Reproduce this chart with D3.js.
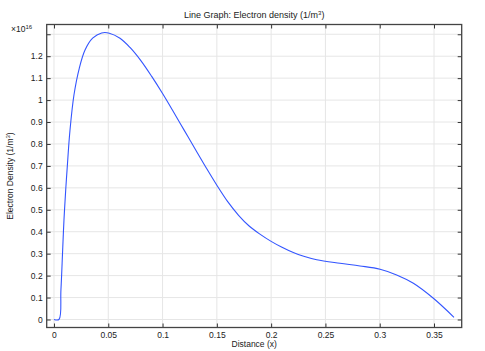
<!DOCTYPE html>
<html><head><meta charset="utf-8">
<script src="https://cdn.jsdelivr.net/npm/d3@7"></script>
<style>body{margin:0;background:#fff;} text{font-family:"Liberation Sans",Arial,sans-serif;fill:#222;}</style>
</head><body>
<svg id="c" width="485" height="351"></svg>
<script>
const xs = [0,0.0046,0.0064,0.008,0.0092,0.0108,0.0123,0.0147,0.0184,0.0233,0.0286,0.0356,0.0439,0.051,0.0608,0.07,0.08,0.09,0.1,0.11,0.12,0.13,0.14,0.15,0.16,0.17,0.18,0.19,0.2,0.21,0.2204,0.23,0.242,0.2634,0.2818,0.3003,0.3156,0.331,0.3494,0.3684];
const density = [0,0,0.134,0.317,0.453,0.59,0.70,0.86,1.023,1.145,1.228,1.282,1.306,1.305,1.282,1.240,1.180,1.108,1.030,0.947,0.862,0.777,0.693,0.612,0.537,0.475,0.425,0.388,0.356,0.329,0.305,0.288,0.272,0.256,0.244,0.229,0.203,0.165,0.0966,0.010];
const xTicks = [0,0.05,0.1,0.15,0.2,0.25,0.3,0.35];
const xTickLabels = ["0","0.05","0.1","0.15","0.2","0.25","0.3","0.35"];
const yTicks = [0,0.1,0.2,0.3,0.4,0.5,0.6,0.7,0.8,0.9,1.0,1.1,1.2,1.3];
const yTickLabels = ["0","0.1","0.2","0.3","0.4","0.5","0.6","0.7","0.8","0.9","1","1.1","1.2",""];

const svg = d3.select("#c");
const L=46.7, R=461.7, T=24.5, B=327.5;
const x = d3.scaleLinear().domain([-0.0067,0.3755]).range([L,R]);
const y = d3.scaleLinear().domain([-0.0365,1.3445]).range([B,T]);

// grid
svg.append("g").selectAll("line").data(xTicks).join("line")
  .attr("x1",d=>x(d)).attr("x2",d=>x(d)).attr("y1",T).attr("y2",B)
  .attr("stroke","#e6e6e6").attr("stroke-width",1);
svg.append("g").selectAll("line").data(yTicks).join("line")
  .attr("y1",d=>y(d)).attr("y2",d=>y(d)).attr("x1",L).attr("x2",R)
  .attr("stroke","#e6e6e6").attr("stroke-width",1);

// axes with inward ticks
const fmtX = (d,i)=>xTickLabels[i];
const fmtY = (d,i)=>yTickLabels[i];
const gB = svg.append("g").attr("transform",`translate(0,${B})`)
  .call(d3.axisBottom(x).tickValues(xTicks).tickFormat(fmtX).tickSizeInner(-4).tickSizeOuter(0).tickPadding(4));
const gT = svg.append("g").attr("transform",`translate(0,${T})`)
  .call(d3.axisTop(x).tickValues(xTicks).tickFormat("").tickSizeInner(-4).tickSizeOuter(0));
const gL = svg.append("g").attr("transform",`translate(${L},0)`)
  .call(d3.axisLeft(y).tickValues(yTicks).tickFormat(fmtY).tickSizeInner(-4).tickSizeOuter(0).tickPadding(4));
const gR = svg.append("g").attr("transform",`translate(${R},0)`)
  .call(d3.axisRight(y).tickValues(yTicks).tickFormat("").tickSizeInner(-4).tickSizeOuter(0));
[gB,gT,gL,gR].forEach(g=>{
  g.selectAll(".domain").remove();
  g.selectAll(".tick line").attr("stroke","#333");
  g.selectAll(".tick text").attr("font-size","8.5px").attr("fill","#222").attr("font-family","Liberation Sans, Arial, sans-serif");
});
svg.append("rect").attr("x",L).attr("y",T).attr("width",R-L).attr("height",B-T)
  .attr("fill","none").attr("stroke","#444").attr("stroke-width",1.3);

// line
const line = d3.line().x((d,i)=>x(xs[i])).y(d=>y(d)).curve(d3.curveCatmullRom.alpha(0.5));
svg.append("path").datum(density).attr("d",line)
  .attr("fill","none").attr("stroke","#3355ff").attr("stroke-width",1.1);

// title
const t = svg.append("text").attr("x",(L+R)/2).attr("y",18).attr("text-anchor","middle").attr("font-size","9px");
t.append("tspan").text("Line Graph: Electron density (1/m");
t.append("tspan").attr("dy",-3.5).attr("font-size","6px").text("3");
t.append("tspan").attr("dy",3.5).text(")");

// multiplier
const m = svg.append("text").attr("x",11).attr("y",32).attr("font-size","8.5px");
m.append("tspan").text("×10");
m.append("tspan").attr("dy",-3.5).attr("font-size","6px").text("16");

// axis labels
svg.append("text").attr("x",(L+R)/2).attr("y",346.5).attr("text-anchor","middle").attr("font-size","8.5px").text("Distance (x)");
const yl = svg.append("text").attr("transform",`translate(13,${(T+B)/2}) rotate(-90)`).attr("text-anchor","middle").attr("font-size","8.5px");
yl.append("tspan").text("Electron Density (1/m");
yl.append("tspan").attr("dy",-3.5).attr("font-size","6px").text("3");
yl.append("tspan").attr("dy",3.5).text(")");
</script>
</body></html>
